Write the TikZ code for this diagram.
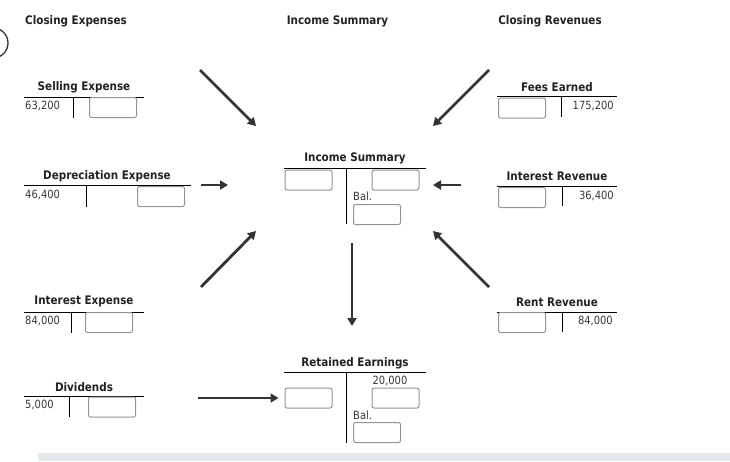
\documentclass[tikz,border=0pt]{standalone}
\usepackage{fontspec}
\setmainfont{DejaVu Sans}[FakeStretch=0.88]
\usetikzlibrary{arrows.meta}
\definecolor{band}{RGB}{227,233,236}
\definecolor{txt}{RGB}{34,34,34}
\definecolor{arrc}{RGB}{51,51,51}
\tikzset{
  ttl/.style={font=\bfseries\fontsize{11.8}{13}\selectfont, text=txt, inner sep=0pt},
  val/.style={font=\fontsize{11.3}{13}\selectfont, text=txt!90, inner sep=0pt},
  ansbox/.style={draw=black!42, fill=white, rounded corners=2pt, line width=1pt,
                 minimum width=47pt, minimum height=20pt, inner sep=0pt},
  tline/.style={line width=1pt, black},
  arr/.style={line width=2.8pt, draw=arrc, -{Triangle[length=8pt,width=9pt]}, shorten >=0pt}
}
\begin{document}
\begin{tikzpicture}[x=1pt,y=-1pt]
\useasboundingbox (0,0) rectangle (730,461);
\fill[band] (38,453) rectangle (730,461);
\draw[line width=1.3pt, black!80] (-7,43) circle (15);

% headers
\node[ttl] (hce) at (76,21) {Closing Expenses};
\node[ttl] (his) at (337.5,21) {Income Summary};
\node[ttl] (hcr) at (550,21) {Closing Revenues};

% Selling Expense
\node[ttl] (seT) at (84,87) {Selling Expense};
\draw[tline] (24,97) -- (144,97) (73,97) -- (73,118);
\node[val, anchor=west] (seV) at (25,106) {63,200};
\node[ansbox] (seB) at (113,107.5) {};

% Depreciation Expense
\node[ttl] (deT) at (107,176) {Depreciation Expense};
\draw[tline] (24,185) -- (191,185) (86,185) -- (86,207);
\node[val, anchor=west] (deV) at (25,195) {46,400};
\node[ansbox] (deB) at (161,196.5) {};

% Interest Expense
\node[ttl] (ieT) at (84,301) {Interest Expense};
\draw[tline] (24,312) -- (144,312) (71,312) -- (71,333);
\node[val, anchor=west] (ieV) at (25,321) {84,000};
\node[ansbox] (ieB) at (109,322.5) {};

% Dividends
\node[ttl] (dvT) at (84,387) {Dividends};
\draw[tline] (24,396) -- (144,396) (69,396) -- (69,417);
\node[val, anchor=west] (dvV) at (25,405) {5,000};
\node[ansbox] (dvB) at (112,407) {};

% Income Summary T
\node[ttl] (isT) at (355,158) {Income Summary};
\draw[tline] (284,168) -- (426,168) (346,168) -- (346,224);
\node[ansbox] (isL) at (308.5,180) {};
\node[ansbox] (isR) at (395.5,180) {};
\node[val, anchor=west] (isBal) at (353,196.5) {Bal.};
\node[ansbox] (isB) at (377,214.5) {};

% Retained Earnings T
\node[ttl] (reT) at (355,363) {Retained Earnings};
\draw[tline] (284,372) -- (426,372) (346,372) -- (346,443);
\node[val] (reV) at (390,381) {20,000};
\node[ansbox] (reL) at (308.5,398) {};
\node[ansbox] (reR) at (395.5,398) {};
\node[val, anchor=west] (reBal) at (353,415) {Bal.};
\node[ansbox] (reB) at (377,432.5) {};

% Fees Earned
\node[ttl] (feT) at (557,87) {Fees Earned};
\draw[tline] (497,96) -- (617,96) (561,96) -- (561,117);
\node[val, anchor=east] (feV) at (614,106) {175,200};
\node[ansbox] (feB) at (522,108) {};

% Interest Revenue
\node[ttl] (irT) at (557,176) {Interest Revenue};
\draw[tline] (497,186) -- (617,186) (562,186) -- (562,206);
\node[val, anchor=east] (irV) at (614,195.5) {36,400};
\node[ansbox] (irB) at (522,197.5) {};

% Rent Revenue
\node[ttl] (rrT) at (557,302) {Rent Revenue};
\draw[tline] (497,312) -- (617,312) (562,312) -- (562,332);
\node[val, anchor=east] (rrV) at (613,321) {84,000};
\node[ansbox] (rrB) at (522,322.5) {};

% arrow coordinates
\coordinate (a1s) at (200,70);  \coordinate (a1e) at (256,126);
\coordinate (a2s) at (201,185); \coordinate (a2e) at (228,185);
\coordinate (a3s) at (201,287); \coordinate (a3e) at (256,231);
\coordinate (a4s) at (489,70);  \coordinate (a4e) at (433,126);
\coordinate (a5s) at (461,185); \coordinate (a5e) at (433,185);
\coordinate (a6s) at (489,287); \coordinate (a6e) at (433,231);
\coordinate (a7s) at (352,243); \coordinate (a7e) at (352,326);
\coordinate (a8s) at (198,398);

\draw[arr] (a1s) -- (a1e);
\draw[arr] (a2s) -- (a2e);
\draw[arr] (a3s) -- (a3e);
\draw[arr] (a4s) -- (a4e);
\draw[arr] (a5s) -- (a5e);
\draw[arr] (a6s) -- (a6e);
\draw[arr] (a7s) -- (a7e);
\draw[arr] (a8s) -- ([xshift=-6pt]reL.west);
\end{tikzpicture}
\end{document}
